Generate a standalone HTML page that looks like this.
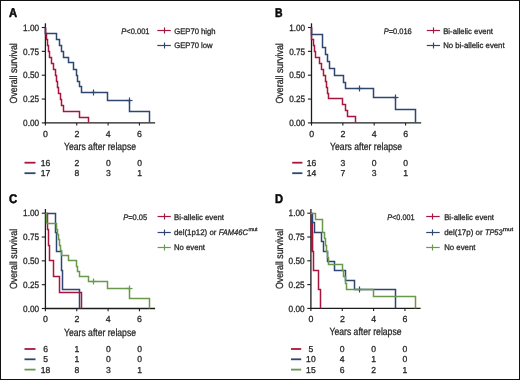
<!DOCTYPE html>
<html><head><meta charset="utf-8"><style>
html,body{margin:0;padding:0;background:#fff;}
body{width:520px;height:380px;overflow:hidden;}
svg{display:block;font-family:"Liberation Sans", sans-serif;will-change:transform;} text{text-rendering:geometricPrecision;stroke:#262626;stroke-width:0.28px;} text.b{stroke:#0a0a0a;stroke-width:0.5px;}
</style></head><body>
<svg width="520" height="380" viewBox="0 0 520 380">
<rect x="0.5" y="0.5" width="519" height="379" fill="#fff" stroke="#111" stroke-width="1"/>
<text x="9" y="16.8" font-size="12.6" textLength="8.1" lengthAdjust="spacingAndGlyphs" font-weight="bold" fill="#0a0a0a" class="b">A</text>
<line x1="45.4" y1="23.3" x2="45.4" y2="123.5" stroke="#1c1c1c" stroke-width="1.3"/>
<line x1="44.8" y1="122.9" x2="155.1" y2="122.9" stroke="#1c1c1c" stroke-width="1.4"/>
<line x1="41.8" y1="122.9" x2="45.4" y2="122.9" stroke="#1c1c1c" stroke-width="1.1"/>
<text x="39.1" y="126.1" font-size="9.1" text-anchor="end" textLength="16" lengthAdjust="spacingAndGlyphs" fill="#262626">0.00</text>
<line x1="41.8" y1="99.05000000000001" x2="45.4" y2="99.05000000000001" stroke="#1c1c1c" stroke-width="1.1"/>
<text x="39.1" y="102.25" font-size="9.1" text-anchor="end" textLength="16" lengthAdjust="spacingAndGlyphs" fill="#262626">0.25</text>
<line x1="41.8" y1="75.2" x2="45.4" y2="75.2" stroke="#1c1c1c" stroke-width="1.1"/>
<text x="39.1" y="78.4" font-size="9.1" text-anchor="end" textLength="16" lengthAdjust="spacingAndGlyphs" fill="#262626">0.50</text>
<line x1="41.8" y1="51.349999999999994" x2="45.4" y2="51.349999999999994" stroke="#1c1c1c" stroke-width="1.1"/>
<text x="39.1" y="54.55" font-size="9.1" text-anchor="end" textLength="16" lengthAdjust="spacingAndGlyphs" fill="#262626">0.75</text>
<line x1="41.8" y1="27.5" x2="45.4" y2="27.5" stroke="#1c1c1c" stroke-width="1.1"/>
<text x="39.1" y="30.7" font-size="9.1" text-anchor="end" textLength="16" lengthAdjust="spacingAndGlyphs" fill="#262626">1.00</text>
<line x1="45.4" y1="122.9" x2="45.4" y2="125.60000000000001" stroke="#1c1c1c" stroke-width="1.1"/>
<text x="45.5" y="136.6" font-size="8.8" text-anchor="middle" fill="#262626">0</text>
<line x1="76.75" y1="122.9" x2="76.75" y2="125.60000000000001" stroke="#1c1c1c" stroke-width="1.1"/>
<text x="76.85" y="136.6" font-size="8.8" text-anchor="middle" fill="#262626">2</text>
<line x1="108.1" y1="122.9" x2="108.1" y2="125.60000000000001" stroke="#1c1c1c" stroke-width="1.1"/>
<text x="108.2" y="136.6" font-size="8.8" text-anchor="middle" fill="#262626">4</text>
<line x1="139.45000000000002" y1="122.9" x2="139.45000000000002" y2="125.60000000000001" stroke="#1c1c1c" stroke-width="1.1"/>
<text x="139.55" y="136.6" font-size="8.8" text-anchor="middle" fill="#262626">6</text>
<text x="100.0" y="149.9" font-size="10.4" text-anchor="middle" textLength="72" lengthAdjust="spacingAndGlyphs" fill="#262626">Years after relapse</text>
<text x="0" y="0" font-size="10.4" text-anchor="middle" textLength="60.2" lengthAdjust="spacingAndGlyphs" fill="#262626" transform="translate(16.799999999999997,73.3) rotate(-90)">Overall survival</text>
<path d="M45.5,27.5 H45.5 V33.5 H46.5 V39.5 H47.5 V45.5 H48.5 V51.5 H49.5 V57.5 H51.5 V63.5 H53.5 V69.5 H55.5 V75.5 H56.5 V81.5 H57.5 V87.5 H58.5 V93.5 H60.5 V99.5 H61.5 V105.5 H63.5 V111.5 H79.5 V117.5 H88.5 V122.5" fill="none" stroke="#a8163f" stroke-width="1.5" stroke-linejoin="miter" stroke-linecap="butt"/>
<path d="M45.5,27.5 H45.5 V33.5 H56.5 V39.5 H59.5 V45.5 H61.5 V51.5 H63.5 V57.5 H68.5 V62.5 H73.5 V69.5 H76.5 V75.5 H77.5 V81.5 H79.5 V86.5 H81.5 V92.5 H107.5 V100.5 H129.5 V111.5 H149.5 V122.5" fill="none" stroke="#2f4672" stroke-width="1.5" stroke-linejoin="miter" stroke-linecap="butt"/>
<line x1="93.5" y1="89.5" x2="93.5" y2="95.5" stroke="#2f4672" stroke-width="1.2"/>
<line x1="90.5" y1="92.5" x2="96.5" y2="92.5" stroke="#2f4672" stroke-width="1.2"/>
<line x1="129.5" y1="97.5" x2="129.5" y2="103.5" stroke="#2f4672" stroke-width="1.2"/>
<line x1="126.5" y1="100.5" x2="132.5" y2="100.5" stroke="#2f4672" stroke-width="1.2"/>
<text x="121.3" y="33.7" font-size="8" fill="#262626" textLength="28.2" lengthAdjust="spacingAndGlyphs"><tspan font-style="italic">P</tspan>&lt;0.001</text>
<line x1="157.3" y1="30.5" x2="170.8" y2="30.5" stroke="#a8163f" stroke-width="1.2"/>
<line x1="164.5" y1="27.5" x2="164.5" y2="33.5" stroke="#a8163f" stroke-width="1.15"/>
<text x="174.2" y="33.7" font-size="8" textLength="41.4" lengthAdjust="spacingAndGlyphs" fill="#262626">GEP70 high</text>
<line x1="157.3" y1="45.5" x2="170.8" y2="45.5" stroke="#2f4672" stroke-width="1.2"/>
<line x1="164.5" y1="42.5" x2="164.5" y2="48.5" stroke="#2f4672" stroke-width="1.15"/>
<text x="174.2" y="48.1" font-size="8" textLength="38.4" lengthAdjust="spacingAndGlyphs" fill="#262626">GEP70 low</text>
<line x1="24.5" y1="162.7" x2="35.5" y2="162.7" stroke="#a8163f" stroke-width="1.8"/>
<text x="45.6" y="165.8" font-size="8.6" text-anchor="middle" fill="#262626">16</text>
<text x="76.95" y="165.8" font-size="8.6" text-anchor="middle" fill="#262626">2</text>
<text x="108.3" y="165.8" font-size="8.6" text-anchor="middle" fill="#262626">0</text>
<text x="139.65" y="165.8" font-size="8.6" text-anchor="middle" fill="#262626">0</text>
<line x1="24.5" y1="173.2" x2="35.5" y2="173.2" stroke="#2f4672" stroke-width="1.8"/>
<text x="45.6" y="176.3" font-size="8.6" text-anchor="middle" fill="#262626">17</text>
<text x="76.95" y="176.3" font-size="8.6" text-anchor="middle" fill="#262626">8</text>
<text x="108.3" y="176.3" font-size="8.6" text-anchor="middle" fill="#262626">3</text>
<text x="139.65" y="176.3" font-size="8.6" text-anchor="middle" fill="#262626">1</text>
<text x="275" y="16.8" font-size="12.6" textLength="7.6" lengthAdjust="spacingAndGlyphs" font-weight="bold" fill="#0a0a0a" class="b">B</text>
<line x1="311.5" y1="23.3" x2="311.5" y2="123.5" stroke="#1c1c1c" stroke-width="1.3"/>
<line x1="310.9" y1="122.9" x2="421.2" y2="122.9" stroke="#1c1c1c" stroke-width="1.4"/>
<line x1="307.9" y1="122.9" x2="311.5" y2="122.9" stroke="#1c1c1c" stroke-width="1.1"/>
<text x="305.2" y="126.1" font-size="9.1" text-anchor="end" textLength="16" lengthAdjust="spacingAndGlyphs" fill="#262626">0.00</text>
<line x1="307.9" y1="99.05000000000001" x2="311.5" y2="99.05000000000001" stroke="#1c1c1c" stroke-width="1.1"/>
<text x="305.2" y="102.25" font-size="9.1" text-anchor="end" textLength="16" lengthAdjust="spacingAndGlyphs" fill="#262626">0.25</text>
<line x1="307.9" y1="75.2" x2="311.5" y2="75.2" stroke="#1c1c1c" stroke-width="1.1"/>
<text x="305.2" y="78.4" font-size="9.1" text-anchor="end" textLength="16" lengthAdjust="spacingAndGlyphs" fill="#262626">0.50</text>
<line x1="307.9" y1="51.349999999999994" x2="311.5" y2="51.349999999999994" stroke="#1c1c1c" stroke-width="1.1"/>
<text x="305.2" y="54.55" font-size="9.1" text-anchor="end" textLength="16" lengthAdjust="spacingAndGlyphs" fill="#262626">0.75</text>
<line x1="307.9" y1="27.5" x2="311.5" y2="27.5" stroke="#1c1c1c" stroke-width="1.1"/>
<text x="305.2" y="30.7" font-size="9.1" text-anchor="end" textLength="16" lengthAdjust="spacingAndGlyphs" fill="#262626">1.00</text>
<line x1="311.5" y1="122.9" x2="311.5" y2="125.60000000000001" stroke="#1c1c1c" stroke-width="1.1"/>
<text x="311.6" y="136.6" font-size="8.8" text-anchor="middle" fill="#262626">0</text>
<line x1="342.85" y1="122.9" x2="342.85" y2="125.60000000000001" stroke="#1c1c1c" stroke-width="1.1"/>
<text x="342.95" y="136.6" font-size="8.8" text-anchor="middle" fill="#262626">2</text>
<line x1="374.2" y1="122.9" x2="374.2" y2="125.60000000000001" stroke="#1c1c1c" stroke-width="1.1"/>
<text x="374.3" y="136.6" font-size="8.8" text-anchor="middle" fill="#262626">4</text>
<line x1="405.55" y1="122.9" x2="405.55" y2="125.60000000000001" stroke="#1c1c1c" stroke-width="1.1"/>
<text x="405.65" y="136.6" font-size="8.8" text-anchor="middle" fill="#262626">6</text>
<text x="366.1" y="149.9" font-size="10.4" text-anchor="middle" textLength="72" lengthAdjust="spacingAndGlyphs" fill="#262626">Years after relapse</text>
<text x="0" y="0" font-size="10.4" text-anchor="middle" textLength="60.2" lengthAdjust="spacingAndGlyphs" fill="#262626" transform="translate(282.9,73.3) rotate(-90)">Overall survival</text>
<path d="M311.5,27.5 H311.5 V33.5 H311.5 V39.5 H313.5 V45.5 H314.5 V51.5 H315.5 V57.5 H319.5 V63.5 H321.5 V69.5 H323.5 V75.5 H325.5 V81.5 H326.5 V87.5 H327.5 V93.5 H328.5 V98.5 H342.5 V104.5 H345.5 V110.5 H347.5 V116.5 H355.5 V122.5" fill="none" stroke="#a8163f" stroke-width="1.5" stroke-linejoin="miter" stroke-linecap="butt"/>
<path d="M311.5,27.5 H311.5 V34.5 H322.5 V40.5 H322.5 V47.5 H325.5 V54.5 H327.5 V61.5 H329.5 V68.5 H334.5 V75.5 H343.5 V82.5 H345.5 V88.5 H373.5 V97.5 H395.5 V109.5 H415.5 V122.5" fill="none" stroke="#2f4672" stroke-width="1.5" stroke-linejoin="miter" stroke-linecap="butt"/>
<line x1="359.5" y1="85.5" x2="359.5" y2="91.5" stroke="#2f4672" stroke-width="1.2"/>
<line x1="356.5" y1="88.5" x2="362.5" y2="88.5" stroke="#2f4672" stroke-width="1.2"/>
<line x1="395.5" y1="94.5" x2="395.5" y2="100.5" stroke="#2f4672" stroke-width="1.2"/>
<line x1="392.5" y1="97.5" x2="398.5" y2="97.5" stroke="#2f4672" stroke-width="1.2"/>
<text x="383.7" y="33.7" font-size="8" fill="#262626" textLength="28.1" lengthAdjust="spacingAndGlyphs"><tspan font-style="italic">P</tspan>=0.016</text>
<line x1="426.8" y1="30.5" x2="440" y2="30.5" stroke="#a8163f" stroke-width="1.2"/>
<line x1="433.5" y1="27.5" x2="433.5" y2="33.5" stroke="#a8163f" stroke-width="1.15"/>
<text x="443.2" y="33.7" font-size="8" textLength="49.8" lengthAdjust="spacingAndGlyphs" fill="#262626">Bi-allelic event</text>
<line x1="426.8" y1="45.5" x2="440" y2="45.5" stroke="#2f4672" stroke-width="1.2"/>
<line x1="433.5" y1="42.5" x2="433.5" y2="48.5" stroke="#2f4672" stroke-width="1.15"/>
<text x="443.2" y="48.3" font-size="8" textLength="61.4" lengthAdjust="spacingAndGlyphs" fill="#262626">No bi-allelic event</text>
<line x1="292.2" y1="162.7" x2="302.4" y2="162.7" stroke="#a8163f" stroke-width="1.8"/>
<text x="311.5" y="165.8" font-size="8.6" text-anchor="middle" fill="#262626">16</text>
<text x="342.85" y="165.8" font-size="8.6" text-anchor="middle" fill="#262626">3</text>
<text x="374.2" y="165.8" font-size="8.6" text-anchor="middle" fill="#262626">0</text>
<text x="405.55" y="165.8" font-size="8.6" text-anchor="middle" fill="#262626">0</text>
<line x1="292.2" y1="173.2" x2="302.4" y2="173.2" stroke="#2f4672" stroke-width="1.8"/>
<text x="311.5" y="176.3" font-size="8.6" text-anchor="middle" fill="#262626">14</text>
<text x="342.85" y="176.3" font-size="8.6" text-anchor="middle" fill="#262626">7</text>
<text x="374.2" y="176.3" font-size="8.6" text-anchor="middle" fill="#262626">3</text>
<text x="405.55" y="176.3" font-size="8.6" text-anchor="middle" fill="#262626">1</text>
<text x="9" y="202.6" font-size="12.6" textLength="8.2" lengthAdjust="spacingAndGlyphs" font-weight="bold" fill="#0a0a0a" class="b">C</text>
<line x1="45.4" y1="209.0" x2="45.4" y2="309.1" stroke="#1c1c1c" stroke-width="1.3"/>
<line x1="44.8" y1="308.5" x2="155.1" y2="308.5" stroke="#1c1c1c" stroke-width="1.4"/>
<line x1="41.8" y1="308.5" x2="45.4" y2="308.5" stroke="#1c1c1c" stroke-width="1.1"/>
<text x="39.1" y="311.7" font-size="9.1" text-anchor="end" textLength="16" lengthAdjust="spacingAndGlyphs" fill="#262626">0.00</text>
<line x1="41.8" y1="284.675" x2="45.4" y2="284.675" stroke="#1c1c1c" stroke-width="1.1"/>
<text x="39.1" y="287.88" font-size="9.1" text-anchor="end" textLength="16" lengthAdjust="spacingAndGlyphs" fill="#262626">0.25</text>
<line x1="41.8" y1="260.85" x2="45.4" y2="260.85" stroke="#1c1c1c" stroke-width="1.1"/>
<text x="39.1" y="264.05" font-size="9.1" text-anchor="end" textLength="16" lengthAdjust="spacingAndGlyphs" fill="#262626">0.50</text>
<line x1="41.8" y1="237.02499999999998" x2="45.4" y2="237.02499999999998" stroke="#1c1c1c" stroke-width="1.1"/>
<text x="39.1" y="240.22" font-size="9.1" text-anchor="end" textLength="16" lengthAdjust="spacingAndGlyphs" fill="#262626">0.75</text>
<line x1="41.8" y1="213.2" x2="45.4" y2="213.2" stroke="#1c1c1c" stroke-width="1.1"/>
<text x="39.1" y="216.4" font-size="9.1" text-anchor="end" textLength="16" lengthAdjust="spacingAndGlyphs" fill="#262626">1.00</text>
<line x1="45.4" y1="308.5" x2="45.4" y2="311.2" stroke="#1c1c1c" stroke-width="1.1"/>
<text x="45.5" y="322.2" font-size="8.8" text-anchor="middle" fill="#262626">0</text>
<line x1="76.75" y1="308.5" x2="76.75" y2="311.2" stroke="#1c1c1c" stroke-width="1.1"/>
<text x="76.85" y="322.2" font-size="8.8" text-anchor="middle" fill="#262626">2</text>
<line x1="108.1" y1="308.5" x2="108.1" y2="311.2" stroke="#1c1c1c" stroke-width="1.1"/>
<text x="108.2" y="322.2" font-size="8.8" text-anchor="middle" fill="#262626">4</text>
<line x1="139.45000000000002" y1="308.5" x2="139.45000000000002" y2="311.2" stroke="#1c1c1c" stroke-width="1.1"/>
<text x="139.55" y="322.2" font-size="8.8" text-anchor="middle" fill="#262626">6</text>
<text x="100.0" y="335.5" font-size="10.4" text-anchor="middle" textLength="72" lengthAdjust="spacingAndGlyphs" fill="#262626">Years after relapse</text>
<text x="0" y="0" font-size="10.4" text-anchor="middle" textLength="60.2" lengthAdjust="spacingAndGlyphs" fill="#262626" transform="translate(16.799999999999997,259.0) rotate(-90)">Overall survival</text>
<path d="M45.5,213.5 H47.5 V229.5 H48.5 V245.5 H49.5 V260.5 H53.5 V276.5 H59.5 V292.5 H81.5 V308.5" fill="none" stroke="#a8163f" stroke-width="1.5" stroke-linejoin="miter" stroke-linecap="butt"/>
<path d="M45.5,213.5 H55.5 V232.5 H56.5 V251.5 H61.5 V270.5 H62.5 V289.5 H79.5 V308.5" fill="none" stroke="#2f4672" stroke-width="1.5" stroke-linejoin="miter" stroke-linecap="butt"/>
<path d="M45.5,213.5 H46.5 V218.5 H46.5 V223.5 H56.5 V229.5 H57.5 V234.5 H58.5 V239.5 H59.5 V245.5 H60.5 V250.5 H61.5 V255.5 H68.5 V260.5 H76.5 V266.5 H77.5 V271.5 H79.5 V276.5 H88.5 V281.5 H107.5 V288.5 H129.5 V298.5 H149.5 V308.5" fill="none" stroke="#69994a" stroke-width="1.5" stroke-linejoin="miter" stroke-linecap="butt"/>
<line x1="93.5" y1="278.5" x2="93.5" y2="284.5" stroke="#69994a" stroke-width="1.2"/>
<line x1="90.5" y1="281.5" x2="96.5" y2="281.5" stroke="#69994a" stroke-width="1.2"/>
<line x1="129.5" y1="285.5" x2="129.5" y2="291.5" stroke="#69994a" stroke-width="1.2"/>
<line x1="126.5" y1="288.5" x2="132.5" y2="288.5" stroke="#69994a" stroke-width="1.2"/>
<text x="123.2" y="219.7" font-size="8" fill="#262626" textLength="24" lengthAdjust="spacingAndGlyphs"><tspan font-style="italic">P</tspan>=0.05</text>
<line x1="157.6" y1="216.5" x2="170.8" y2="216.5" stroke="#a8163f" stroke-width="1.2"/>
<line x1="164.5" y1="213.5" x2="164.5" y2="219.5" stroke="#a8163f" stroke-width="1.15"/>
<text x="174" y="219.7" font-size="8" textLength="50" lengthAdjust="spacingAndGlyphs" fill="#262626">Bi-allelic event</text>
<line x1="157.6" y1="232.5" x2="170.8" y2="232.5" stroke="#2f4672" stroke-width="1.2"/>
<line x1="164.5" y1="229.5" x2="164.5" y2="235.5" stroke="#2f4672" stroke-width="1.15"/>
<text x="174" y="235.0" font-size="8" textLength="42.4" lengthAdjust="spacingAndGlyphs" fill="#262626">del(1p12) or</text>
<text x="218.7" y="235.0" font-size="8" textLength="29.2" lengthAdjust="spacingAndGlyphs" font-style="italic" fill="#262626">FAM46C</text>
<text x="248.4" y="231.0" font-size="5.2" textLength="9.2" lengthAdjust="spacingAndGlyphs" fill="#262626">mut</text>
<line x1="157.6" y1="247.5" x2="170.8" y2="247.5" stroke="#69994a" stroke-width="1.2"/>
<line x1="164.5" y1="244.5" x2="164.5" y2="250.5" stroke="#69994a" stroke-width="1.15"/>
<text x="174" y="250.3" font-size="8" textLength="31" lengthAdjust="spacingAndGlyphs" fill="#262626">No event</text>
<line x1="24.5" y1="349.0" x2="35.5" y2="349.0" stroke="#a8163f" stroke-width="1.8"/>
<text x="45.6" y="352.1" font-size="8.6" text-anchor="middle" fill="#262626">6</text>
<text x="76.95" y="352.1" font-size="8.6" text-anchor="middle" fill="#262626">1</text>
<text x="108.3" y="352.1" font-size="8.6" text-anchor="middle" fill="#262626">0</text>
<text x="139.65" y="352.1" font-size="8.6" text-anchor="middle" fill="#262626">0</text>
<line x1="24.5" y1="359.3" x2="35.5" y2="359.3" stroke="#2f4672" stroke-width="1.8"/>
<text x="45.6" y="362.4" font-size="8.6" text-anchor="middle" fill="#262626">5</text>
<text x="76.95" y="362.4" font-size="8.6" text-anchor="middle" fill="#262626">1</text>
<text x="108.3" y="362.4" font-size="8.6" text-anchor="middle" fill="#262626">0</text>
<text x="139.65" y="362.4" font-size="8.6" text-anchor="middle" fill="#262626">0</text>
<line x1="24.5" y1="369.6" x2="35.5" y2="369.6" stroke="#69994a" stroke-width="1.8"/>
<text x="45.6" y="372.7" font-size="8.6" text-anchor="middle" fill="#262626">18</text>
<text x="76.95" y="372.7" font-size="8.6" text-anchor="middle" fill="#262626">8</text>
<text x="108.3" y="372.7" font-size="8.6" text-anchor="middle" fill="#262626">3</text>
<text x="139.65" y="372.7" font-size="8.6" text-anchor="middle" fill="#262626">1</text>
<text x="275" y="202.6" font-size="12.6" textLength="8.1" lengthAdjust="spacingAndGlyphs" font-weight="bold" fill="#0a0a0a" class="b">D</text>
<line x1="310.9" y1="209.0" x2="310.9" y2="309.0" stroke="#1c1c1c" stroke-width="1.3"/>
<line x1="310.29999999999995" y1="308.4" x2="420.59999999999997" y2="308.4" stroke="#1c1c1c" stroke-width="1.4"/>
<line x1="307.29999999999995" y1="308.4" x2="310.9" y2="308.4" stroke="#1c1c1c" stroke-width="1.1"/>
<text x="304.59999999999997" y="311.6" font-size="9.1" text-anchor="end" textLength="16" lengthAdjust="spacingAndGlyphs" fill="#262626">0.00</text>
<line x1="307.29999999999995" y1="284.59999999999997" x2="310.9" y2="284.59999999999997" stroke="#1c1c1c" stroke-width="1.1"/>
<text x="304.59999999999997" y="287.8" font-size="9.1" text-anchor="end" textLength="16" lengthAdjust="spacingAndGlyphs" fill="#262626">0.25</text>
<line x1="307.29999999999995" y1="260.79999999999995" x2="310.9" y2="260.79999999999995" stroke="#1c1c1c" stroke-width="1.1"/>
<text x="304.59999999999997" y="264.0" font-size="9.1" text-anchor="end" textLength="16" lengthAdjust="spacingAndGlyphs" fill="#262626">0.50</text>
<line x1="307.29999999999995" y1="237.0" x2="310.9" y2="237.0" stroke="#1c1c1c" stroke-width="1.1"/>
<text x="304.59999999999997" y="240.2" font-size="9.1" text-anchor="end" textLength="16" lengthAdjust="spacingAndGlyphs" fill="#262626">0.75</text>
<line x1="307.29999999999995" y1="213.2" x2="310.9" y2="213.2" stroke="#1c1c1c" stroke-width="1.1"/>
<text x="304.59999999999997" y="216.4" font-size="9.1" text-anchor="end" textLength="16" lengthAdjust="spacingAndGlyphs" fill="#262626">1.00</text>
<line x1="310.9" y1="308.4" x2="310.9" y2="311.09999999999997" stroke="#1c1c1c" stroke-width="1.1"/>
<text x="311.0" y="322.09999999999997" font-size="8.8" text-anchor="middle" fill="#262626">0</text>
<line x1="342.25" y1="308.4" x2="342.25" y2="311.09999999999997" stroke="#1c1c1c" stroke-width="1.1"/>
<text x="342.35" y="322.09999999999997" font-size="8.8" text-anchor="middle" fill="#262626">2</text>
<line x1="373.59999999999997" y1="308.4" x2="373.59999999999997" y2="311.09999999999997" stroke="#1c1c1c" stroke-width="1.1"/>
<text x="373.7" y="322.09999999999997" font-size="8.8" text-anchor="middle" fill="#262626">4</text>
<line x1="404.95" y1="308.4" x2="404.95" y2="311.09999999999997" stroke="#1c1c1c" stroke-width="1.1"/>
<text x="405.05" y="322.09999999999997" font-size="8.8" text-anchor="middle" fill="#262626">6</text>
<text x="365.5" y="335.4" font-size="10.4" text-anchor="middle" textLength="72" lengthAdjust="spacingAndGlyphs" fill="#262626">Years after relapse</text>
<text x="0" y="0" font-size="10.4" text-anchor="middle" textLength="60.2" lengthAdjust="spacingAndGlyphs" fill="#262626" transform="translate(282.9,259.0) rotate(-90)">Overall survival</text>
<path d="M310.5,213.5 H311.5 V232.5 H312.5 V251.5 H313.5 V270.5 H318.5 V289.5 H320.5 V308.5" fill="none" stroke="#a8163f" stroke-width="1.5" stroke-linejoin="miter" stroke-linecap="butt"/>
<line x1="312" y1="223" x2="312" y2="251.5" stroke="#a8163f" stroke-width="2.2"/>
<path d="M310.5,213.5 H312.5 V222.5 H314.5 V232.5 H321.5 V241.5 H323.5 V251.5 H327.5 V261.5 H334.5 V270.5 H345.5 V280.5 H354.5 V289.5 H395.5 V308.5" fill="none" stroke="#2f4672" stroke-width="1.5" stroke-linejoin="miter" stroke-linecap="butt"/>
<line x1="359.5" y1="286.5" x2="359.5" y2="292.5" stroke="#2f4672" stroke-width="1.2"/>
<line x1="356.5" y1="289.5" x2="362.5" y2="289.5" stroke="#2f4672" stroke-width="1.2"/>
<path d="M310.5,213.5 H315.5 V219.5 H322.5 V225.5 H322.5 V232.5 H324.5 V238.5 H325.5 V245.5 H326.5 V251.5 H327.5 V257.5 H328.5 V264.5 H342.5 V270.5 H343.5 V276.5 H345.5 V283.5 H346.5 V289.5 H373.5 V296.5 H415.5 V308.5" fill="none" stroke="#69994a" stroke-width="1.5" stroke-linejoin="miter" stroke-linecap="butt"/>
<text x="387.2" y="219.7" font-size="8" fill="#262626" textLength="27.5" lengthAdjust="spacingAndGlyphs"><tspan font-style="italic">P</tspan>&lt;0.001</text>
<line x1="426.2" y1="216.5" x2="439.7" y2="216.5" stroke="#a8163f" stroke-width="1.2"/>
<line x1="432.5" y1="213.5" x2="432.5" y2="219.5" stroke="#a8163f" stroke-width="1.15"/>
<text x="444.2" y="219.7" font-size="8" textLength="49.8" lengthAdjust="spacingAndGlyphs" fill="#262626">Bi-allelic event</text>
<line x1="426.2" y1="232.5" x2="439.7" y2="232.5" stroke="#2f4672" stroke-width="1.2"/>
<line x1="432.5" y1="229.5" x2="432.5" y2="235.5" stroke="#2f4672" stroke-width="1.15"/>
<text x="444.2" y="235.0" font-size="8" textLength="38.4" lengthAdjust="spacingAndGlyphs" fill="#262626">del(17p) or</text>
<text x="484.9" y="235.0" font-size="8" textLength="17.6" lengthAdjust="spacingAndGlyphs" font-style="italic" fill="#262626">TP53</text>
<text x="502.8" y="231.0" font-size="5.2" textLength="10.4" lengthAdjust="spacingAndGlyphs" fill="#262626">mut</text>
<line x1="426.2" y1="247.5" x2="439.7" y2="247.5" stroke="#69994a" stroke-width="1.2"/>
<line x1="432.5" y1="244.5" x2="432.5" y2="250.5" stroke="#69994a" stroke-width="1.15"/>
<text x="444.2" y="250.3" font-size="8" textLength="31.2" lengthAdjust="spacingAndGlyphs" fill="#262626">No event</text>
<line x1="291" y1="349.0" x2="301.2" y2="349.0" stroke="#a8163f" stroke-width="1.8"/>
<text x="310.9" y="352.1" font-size="8.6" text-anchor="middle" fill="#262626">5</text>
<text x="342.25" y="352.1" font-size="8.6" text-anchor="middle" fill="#262626">0</text>
<text x="373.6" y="352.1" font-size="8.6" text-anchor="middle" fill="#262626">0</text>
<text x="404.95" y="352.1" font-size="8.6" text-anchor="middle" fill="#262626">0</text>
<line x1="291" y1="359.3" x2="301.2" y2="359.3" stroke="#2f4672" stroke-width="1.8"/>
<text x="310.9" y="362.4" font-size="8.6" text-anchor="middle" fill="#262626">10</text>
<text x="342.25" y="362.4" font-size="8.6" text-anchor="middle" fill="#262626">4</text>
<text x="373.6" y="362.4" font-size="8.6" text-anchor="middle" fill="#262626">1</text>
<text x="404.95" y="362.4" font-size="8.6" text-anchor="middle" fill="#262626">0</text>
<line x1="291" y1="369.6" x2="301.2" y2="369.6" stroke="#69994a" stroke-width="1.8"/>
<text x="310.9" y="372.7" font-size="8.6" text-anchor="middle" fill="#262626">15</text>
<text x="342.25" y="372.7" font-size="8.6" text-anchor="middle" fill="#262626">6</text>
<text x="373.6" y="372.7" font-size="8.6" text-anchor="middle" fill="#262626">2</text>
<text x="404.95" y="372.7" font-size="8.6" text-anchor="middle" fill="#262626">1</text>
</svg>
</body></html>
